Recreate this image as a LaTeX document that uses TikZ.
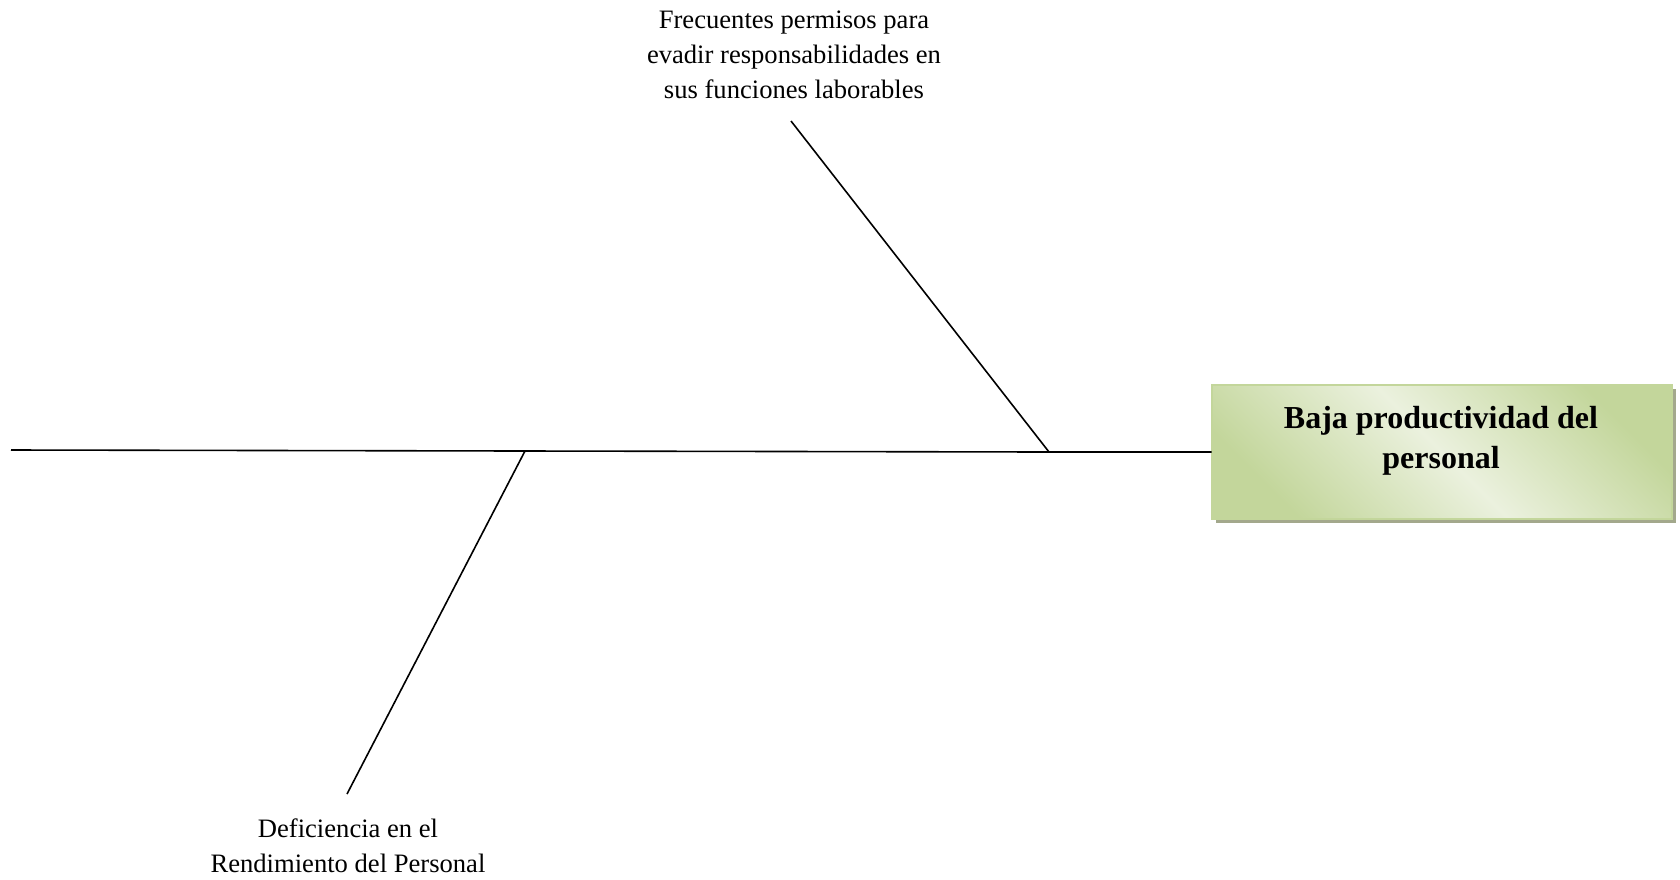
\documentclass[tikz,border=0pt]{standalone}
\usepackage{fontspec}
\setmainfont{Liberation Serif}
\usetikzlibrary{calc}
\definecolor{boxdark}{HTML}{C3D69B}
\definecolor{boxlight}{HTML}{EBF1DE}
\definecolor{boxshadow}{HTML}{A3A88C}
\tikzset{
  bone/.style={line width=0.8pt, black},
  causetext/.style={align=center, font=\fontsize{13.3}{17.5}\selectfont, inner sep=0pt},
  effecttext/.style={align=center, font=\fontsize{16}{20}\selectfont\bfseries, inner sep=0pt},
}
\begin{document}
\begin{tikzpicture}[x=0.5pt,y=-0.5pt]
\useasboundingbox (0,0) rectangle (1680,879);
% effect box
\fill[boxshadow] (1216,389) rectangle (1676,523);
\shade[top color=boxdark, bottom color=boxdark, middle color=boxlight, shading angle=-45]
  (1212,385) rectangle (1672,519);
\draw[boxdark, line width=0.8pt] (1212,385) rectangle (1672,519);
\node[draw=none, minimum width=230pt, minimum height=67pt, inner sep=0pt] (effect) at (1442,452) {};
\node[effecttext, anchor=base] (effl1) at (1441,428) {Baja productividad del};
\node[effecttext, anchor=base] (effl2) at (1441,468) {personal};
% cause texts
\node[causetext, anchor=base] (c1) at (794,98) {Frecuentes permisos para\\evadir responsabilidades en\\sus funciones laborables};
\node[causetext, anchor=base] (c2) at (348,872) {Deficiencia en el\\Rendimiento del Personal};
% coordinates
\coordinate (tail) at (11,450);
\coordinate (j1) at (1049,452);
\coordinate (j2) at (525,451);
\coordinate (b1) at (791,121);
\coordinate (b2) at (347,794);
% spine and branches
\draw[bone] (tail) -- (j2) -- (j1) -- (effect.west);
\draw[bone] (b1) -- (j1);
\draw[bone] (j2) -- (b2);
\end{tikzpicture}
\end{document}
